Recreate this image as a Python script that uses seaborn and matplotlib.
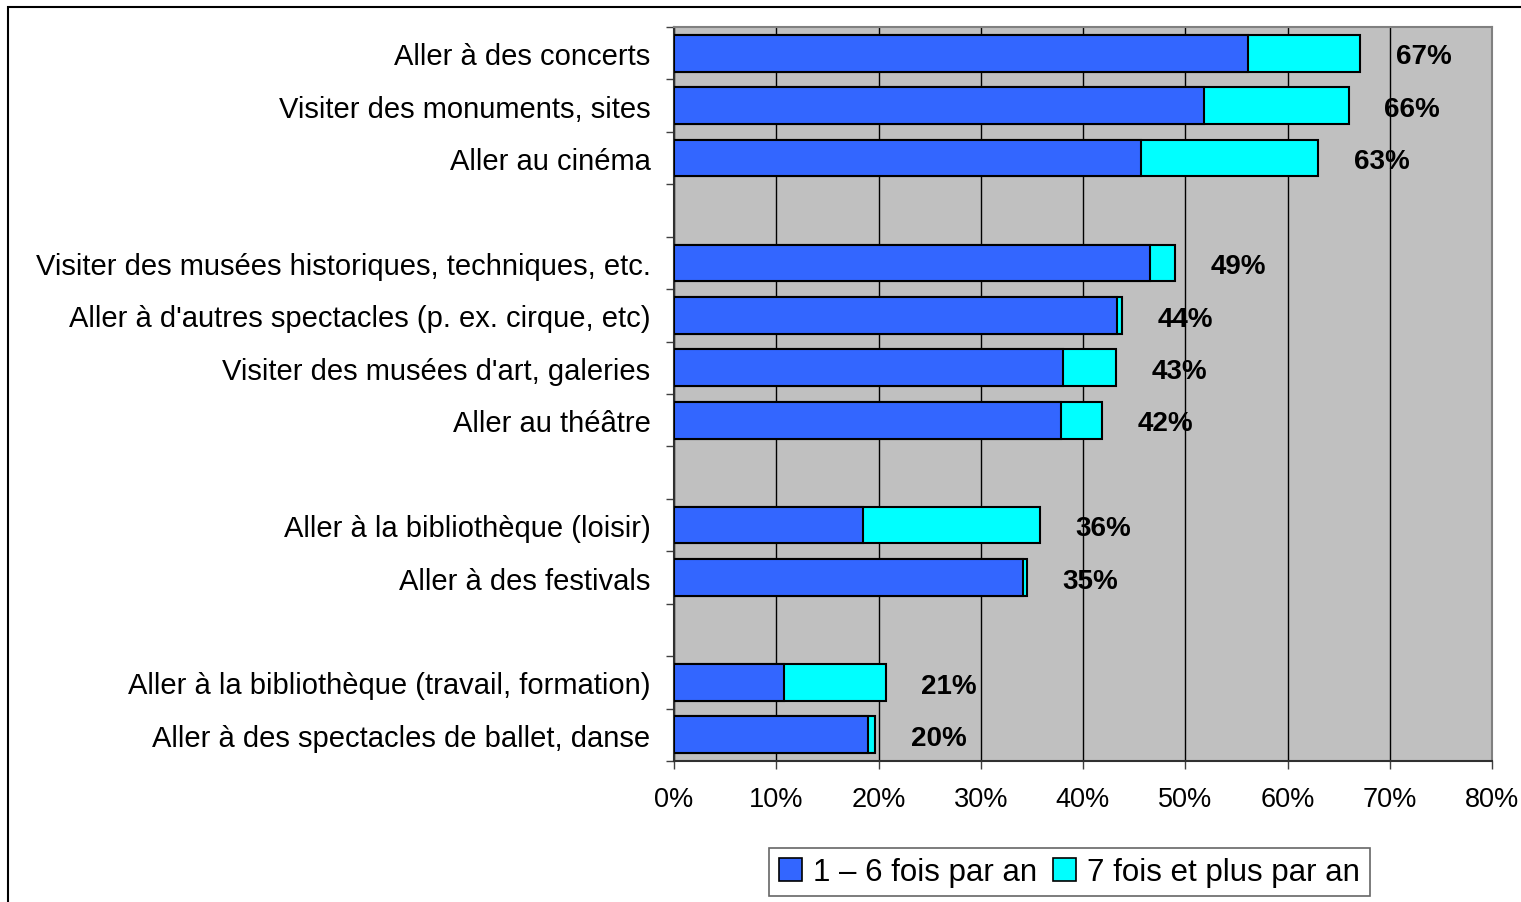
import numpy as np
import pandas as pd
import matplotlib
matplotlib.use("Agg")
import matplotlib.pyplot as plt
import seaborn as sns
from matplotlib.patches import Patch, Rectangle
from matplotlib.ticker import PercentFormatter, FixedLocator

activities = [
    "Aller à des concerts",
    "Visiter des monuments, sites",
    "Aller au cinéma",
    "Visiter des musées historiques, techniques, etc.",
    "Aller à d'autres spectacles (p. ex. cirque, etc)",
    "Visiter des musées d'art, galeries",
    "Aller au théâtre",
    "Aller à la bibliothèque (loisir)",
    "Aller à des festivals",
    "Aller à la bibliothèque (travail, formation)",
    "Aller à des spectacles de ballet, danse",
]
groups = [1, 1, 1, 2, 2, 2, 2, 3, 3, 4, 4]
freq_1_6 = [56.1, 51.8, 45.7, 46.6, 43.3, 38.0, 37.8, 18.5, 34.1, 10.8, 19.0]
freq_total = [67.1, 66.0, 63.0, 49.0, 43.8, 43.2, 41.9, 35.8, 34.5, 20.7, 19.7]
total_labels = ["67%", "66%", "63%", "49%", "44%", "43%", "42%", "36%", "35%", "21%", "20%"]
series_names = ["1 \u2013 6 fois par an", "7 fois et plus par an"]

BLUE = "#3366FF"
CYAN = "#00FFFF"

plt.rcParams["font.family"] = ["Liberation Sans", "DejaVu Sans"]

df = pd.DataFrame({"activite": activities, "groupe": groups,
                   "f16": freq_1_6, "total": freq_total, "label": total_labels})

# category order with empty slots between groups
order = []
for i, (a, g) in enumerate(zip(activities, groups)):
    if i > 0 and g != groups[i - 1]:
        order.append(f"_gap{g}")
    order.append(a)

fig = plt.figure(figsize=(15.21, 9.03), dpi=100)
ax = fig.add_axes([674 / 1521, 1 - 762 / 903, (1492 - 674) / 1521, (762 - 28) / 903])
ax.set_facecolor("#C0C0C0")

sns.barplot(data=df, y="activite", x="total", order=order, color=CYAN,
            edgecolor="black", linewidth=1.5, width=0.7, saturation=1, ax=ax, zorder=3)
sns.barplot(data=df, y="activite", x="f16", order=order, color=BLUE,
            edgecolor="black", linewidth=1.5, width=0.7, saturation=1, ax=ax, zorder=4)

ax.set_xlim(0, 80)
ax.set_ylim(len(order) - 0.5, -0.5)
ax.set_xlabel("")
ax.set_ylabel("")

# value labels
for _, r in df.iterrows():
    ypos = order.index(r["activite"]) + 0.06
    ax.text(r["total"] + 6.2, ypos, r["label"], ha="center", va="center",
            fontsize=20, fontweight="bold", color="black", zorder=5)

# x axis
ax.set_xticks(np.arange(0, 81, 10))
ax.xaxis.set_major_formatter(PercentFormatter(xmax=100, decimals=0))
ax.tick_params(axis="x", length=6, width=1, color="#404040", pad=12, labelsize=19.5)
ax.grid(axis="x", color="black", linewidth=1, zorder=1)
ax.set_axisbelow(True)

# y axis: ticks at row boundaries, labels at row centers
ax.yaxis.set_major_locator(FixedLocator(np.arange(-0.5, len(order), 1)))
ax.set_yticklabels([])
ax.yaxis.set_minor_locator(FixedLocator([order.index(a) for a in activities]))
ax.set_yticklabels(activities, minor=True)
ax.tick_params(axis="y", which="major", length=6, width=1, color="#404040")
ax.tick_params(axis="y", which="minor", length=0, pad=17, labelsize=21)

for side in ["left", "bottom"]:
    ax.spines[side].set_color("#303030")
    ax.spines[side].set_linewidth(1.5)
for side in ["top", "right"]:
    ax.spines[side].set_color("#808080")
    ax.spines[side].set_linewidth(1.5)

# legend
handles = [Patch(facecolor=BLUE, edgecolor="black", linewidth=1.2),
           Patch(facecolor=CYAN, edgecolor="black", linewidth=1.2)]
leg = fig.legend(handles, series_names, loc="center", bbox_to_anchor=(1069.5 / 1521, 1 - 873 / 903),
                 ncol=2, fontsize=22.5, frameon=True, fancybox=False, handlelength=0.75,
                 handleheight=0.75, handletextpad=0.35, columnspacing=0.5, borderpad=0.3,
                 borderaxespad=0)
leg.get_frame().set_edgecolor("#404040")
leg.get_frame().set_linewidth(1.2)

# outer frame (top and left edges visible)
fig.add_artist(Rectangle((8 / 1521, -0.1), 1.2, 1.1 - 8 / 903, transform=fig.transFigure,
                         fill=False, edgecolor="black", linewidth=1.5))

fig.savefig("out.png", dpi=100)
